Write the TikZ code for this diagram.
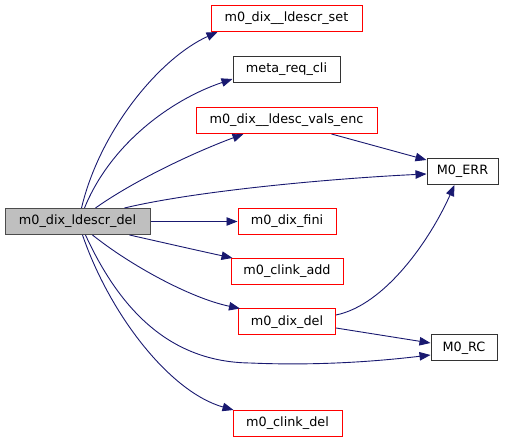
\documentclass[tikz,border=0pt]{standalone}
\usepackage{fontspec}
\setmainfont{DejaVu Sans}
\usetikzlibrary{arrows.meta}
\definecolor{edgeblue}{HTML}{191970}
\definecolor{mainfill}{HTML}{BFBFBF}
\tikzset{
  box/.style={draw, line width=1pt, inner sep=0pt, minimum height=26pt, font=\fontsize{12.8}{14}\selectfont, fill=white},
  redbox/.style={box, draw=red},
  blackbox/.style={box, draw=black!80},
  mainbox/.style={box, draw=black!70, fill=mainfill},
  edge/.style={draw=edgeblue, line width=0.9pt, -{Triangle[length=11pt,width=8.5pt]}},
}
\begin{document}
\begin{tikzpicture}[x=1pt,y=-1pt]
\useasboundingbox (0,0) rectangle (507,443);
\node[mainbox, minimum width=145pt] (main) at (77.5,221.5) {m0\_dix\_ldescr\_del};
\node[redbox, minimum width=151pt] (set) at (286.5,18.5) {m0\_dix\_\_ldescr\_set};
\node[blackbox, minimum width=107pt] (meta) at (286.5,69.5) {meta\_req\_cli};
\node[redbox, minimum width=181pt] (enc) at (286.5,120.5) {m0\_dix\_\_ldesc\_vals\_enc};
\node[blackbox, minimum width=71pt] (err) at (462.5,171.5) {M0\_ERR};
\node[redbox, minimum width=98pt] (fini) at (287,221.5) {m0\_dix\_fini};
\node[redbox, minimum width=112pt] (add) at (287,271.5) {m0\_clink\_add};
\node[redbox, minimum width=97pt] (del) at (287,322) {m0\_dix\_del};
\node[blackbox, minimum width=66pt] (rc) at (464,348) {M0\_RC};
\node[redbox, minimum width=109pt] (cdel) at (287.5,423.5) {m0\_clink\_del};

% start points on main
\coordinate (t1) at ([xshift=77pt]main.north west);
\coordinate (t2) at ([xshift=80pt]main.north west);
\coordinate (t3) at ([xshift=91pt]main.north west);
\coordinate (t4) at ([xshift=120pt]main.north west);
\coordinate (b1) at ([xshift=78pt]main.south west);
\coordinate (b2) at ([xshift=81pt]main.south west);
\coordinate (b3) at ([xshift=88pt]main.south west);
\coordinate (b4) at ([xshift=125pt]main.south west);
% end points
\coordinate (eset) at ([xshift=7pt]set.south west);
\coordinate (emeta) at ([yshift=4pt]meta.south west);
\coordinate (eenc) at ([xshift=48pt]enc.south west);
\coordinate (eerr1) at ([yshift=-2.5pt]err.west);
\coordinate (eerr2) at ([yshift=-2pt]err.north west);
\coordinate (eerr3) at ([xshift=28pt]err.south west);
\coordinate (eadd) at ([xshift=2pt]add.north west);
\coordinate (edel) at ([xshift=2pt]del.north west);
\coordinate (erc1) at ([yshift=-7pt]rc.west);
\coordinate (erc2) at ([yshift=5pt]rc.west);
\coordinate (ecdel) at ([xshift=1pt]cdel.north west);
\coordinate (sdel1) at ([yshift=7pt]del.east);
\coordinate (sdel2) at ([yshift=-6pt]del.east);
\coordinate (senc) at ([xshift=136pt]enc.south west);

\draw[edge] (t1) .. controls (100,130) and (160,58) .. (eset);
\draw[edge] (t2) .. controls (110,145) and (170,100) .. (emeta);
\draw[edge] (t3) .. controls (135,180) and (195,152) .. (eenc);
\draw[edge] (t4) .. controls (200,190) and (340,178) .. (eerr1);
\draw[edge] (main.east) -- (fini.west);
\draw[edge] (b4) .. controls (165,243) and (200,251) .. (eadd);
\draw[edge] (b3) .. controls (130,265) and (190,298) .. (edel);
\draw[edge] (b2) .. controls (120,310) and (170,362) .. (250,363) .. controls (320,366) and (380,361) .. (erc1);
\draw[edge] (b1) .. controls (110,315) and (170,392) .. (ecdel);
\draw[edge] (senc) -- (eerr2);
\draw[edge] (sdel1) .. controls (385,305) and (430,240) .. (eerr3);
\draw[edge] (sdel2) -- (erc2);
\end{tikzpicture}
\end{document}
